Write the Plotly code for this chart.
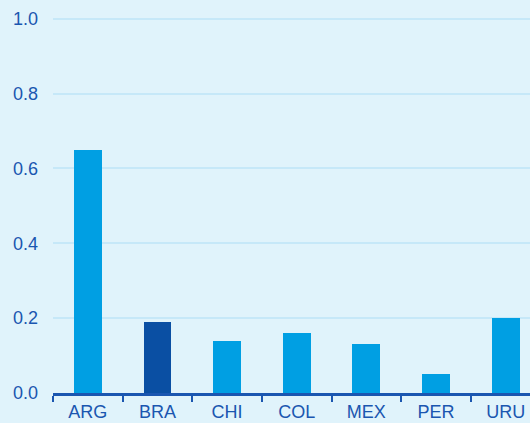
import plotly.graph_objects as go

categories = ["ARG", "BRA", "CHI", "COL", "MEX", "PER", "URU"]
values = [0.65, 0.19, 0.14, 0.16, 0.13, 0.05, 0.20]
bar_colors = ["#009FE3", "#0A4FA3", "#009FE3", "#009FE3", "#009FE3", "#009FE3", "#009FE3"]
y_ticks = [0.0, 0.2, 0.4, 0.6, 0.8, 1.0]
y_tick_text = ["0.0", "0.2", "0.4", "0.6", "0.8", "1.0"]

bg = "#E0F3FB"
ink = "#1A56B0"

fig = go.Figure(go.Bar(
    x=categories, y=values, marker_color=bar_colors, marker_line_width=0,
    width=0.4,
))
fig.update_layout(
    width=530, height=423,
    margin=dict(l=53, r=0, t=0, b=30, autoexpand=False),
    paper_bgcolor=bg, plot_bgcolor=bg,
    font=dict(family="Liberation Sans, Arial, sans-serif", size=18, color=ink),
    showlegend=False,
    bargap=0,
)
fig.update_xaxes(
    range=[-0.5, 6.35], showgrid=False, showline=True, linecolor=ink, linewidth=2.5,
    ticks="outside", tickson="boundaries", ticklen=6, tickwidth=2, tickcolor=ink,
    ticklabelstandoff=1, automargin=False,
    tickfont=dict(size=18, color=ink),
)
fig.update_yaxes(
    range=[0, 1.05], tickvals=y_ticks, ticktext=y_tick_text,
    showgrid=True, gridcolor="#C6E8F8", gridwidth=1.5, zeroline=False,
    showline=False, ticks="", ticklabelstandoff=14, automargin=False,
    tickfont=dict(size=18, color=ink),
)
fig.write_html(
    "out.html",
    config={"displayModeBar": False},
    post_script="document.body.style.margin='0';document.body.style.background='#E0F3FB';",
)
